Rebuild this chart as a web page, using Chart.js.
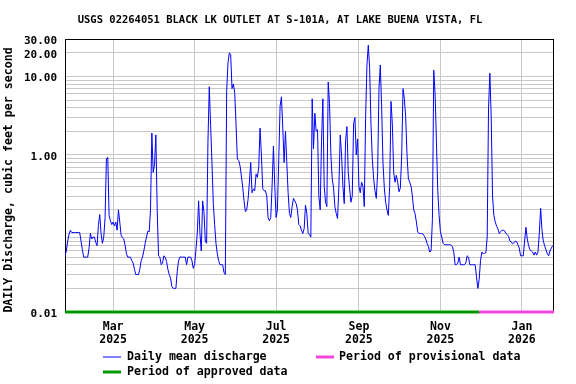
<!DOCTYPE html>
<html>
<head>
<meta charset="utf-8">
<script src="https://cdn.jsdelivr.net/npm/chart.js@4.4.1/dist/chart.umd.min.js"></script>
<style>
  html, body { margin: 0; padding: 0; background: #fff; }
</style>
</head>
<body>
<canvas id="chart" width="576" height="384"></canvas>
<script>
  'use strict';

  // ---- data (day 0 = 2025-01-24)
  const startDate = '2025-01-24';
  const dailyFlow = [
    0.052, 0.06, 0.08, 0.097, 0.11, 0.103, 0.103, 0.103, 0.103, 0.103,
    0.103, 0.103, 0.08, 0.062, 0.05, 0.05, 0.05, 0.05, 0.065, 0.1,
    0.085, 0.09, 0.09, 0.077, 0.07, 0.127, 0.174, 0.1, 0.075, 0.09,
    0.16, 0.9, 0.93, 0.17, 0.145, 0.13, 0.14, 0.125, 0.14, 0.11,
    0.2, 0.14, 0.095, 0.088, 0.085, 0.07, 0.055, 0.05, 0.05, 0.05,
    0.045, 0.042, 0.035, 0.03, 0.03, 0.03, 0.035, 0.045, 0.05, 0.06,
    0.075, 0.09, 0.107, 0.105, 0.2, 1.9, 0.6, 0.75, 1.8, 0.2,
    0.052, 0.05, 0.04, 0.042, 0.052, 0.05, 0.044, 0.035, 0.03, 0.027,
    0.021, 0.02, 0.02, 0.02, 0.033, 0.045, 0.05, 0.05, 0.05, 0.05,
    0.05, 0.04, 0.05, 0.05, 0.05, 0.045, 0.036, 0.04, 0.062, 0.1,
    0.26, 0.1, 0.06, 0.26, 0.19, 0.08, 0.075, 1.5, 7.4, 2.37,
    0.8, 0.24, 0.13, 0.075, 0.055, 0.045, 0.04, 0.04, 0.04, 0.032,
    0.03, 6.6, 15, 20, 19, 7, 8, 6.3, 2.5, 0.89,
    0.85, 0.73, 0.54, 0.39, 0.26, 0.19, 0.2, 0.27, 0.45, 0.8,
    0.33, 0.37, 0.35, 0.57, 0.52, 0.7, 2.2, 1.0, 0.37, 0.35,
    0.35, 0.3, 0.16, 0.145, 0.16, 0.4, 1.3, 0.4, 0.16, 0.2,
    0.9, 4.2, 5.5, 2.2, 0.8, 2.0, 0.8, 0.33, 0.18, 0.16,
    0.22, 0.28, 0.26, 0.24, 0.2, 0.13, 0.125, 0.11, 0.1, 0.115,
    0.23, 0.18, 0.1, 0.097, 0.09, 5.2, 1.2, 3.4, 2.0, 2.1,
    0.3, 0.2, 1.5, 5.2, 0.4, 0.25, 0.22, 8.5, 4.5, 1.0,
    0.5, 0.38, 0.22, 0.18, 0.155, 0.4, 1.8, 1.0, 0.4, 0.24,
    1.5, 2.3, 0.6, 0.38, 0.25, 0.3, 2.5, 3.0, 1.0, 1.6,
    0.4, 0.33, 0.45, 0.4, 0.22, 3.0, 14, 25, 13, 2.5,
    0.9, 0.5, 0.35, 0.28, 0.6, 7, 14, 4, 0.8, 0.38,
    0.25, 0.2, 0.17, 0.4, 4.8, 2.5, 0.6, 0.45, 0.55, 0.45,
    0.34, 0.38, 1.0, 7, 5.2, 3.0, 1.0, 0.5, 0.45, 0.4,
    0.3, 0.2, 0.18, 0.14, 0.105, 0.1, 0.1, 0.1, 0.098, 0.092,
    0.085, 0.075, 0.068, 0.058, 0.06, 0.15, 12, 6, 1.5, 0.35,
    0.17, 0.105, 0.09, 0.075, 0.072, 0.072, 0.072, 0.072, 0.072, 0.071,
    0.068, 0.058, 0.04, 0.04, 0.042, 0.05, 0.04, 0.04, 0.04, 0.04,
    0.042, 0.052, 0.05, 0.04, 0.04, 0.04, 0.04, 0.04, 0.028, 0.02,
    0.026, 0.045, 0.058, 0.055, 0.056, 0.057, 0.09, 4, 11, 3,
    0.3, 0.17, 0.14, 0.125, 0.115, 0.1, 0.105, 0.11, 0.11, 0.108,
    0.1, 0.097, 0.092, 0.08, 0.078, 0.074, 0.076, 0.08, 0.079, 0.072,
    0.065, 0.052, 0.052, 0.052, 0.08, 0.12, 0.085, 0.07, 0.062, 0.06,
    0.058, 0.053, 0.058, 0.053, 0.058, 0.1, 0.21, 0.11, 0.08, 0.07,
    0.062, 0.055, 0.052, 0.06, 0.065, 0.07
  ];

  const lastDay = 366;
  const approvedDays = [0, 310];
  const provisionalDays = [310, lastDay];

  const monthTickDays = [36, 97, 158, 220, 281, 342];
  const monthTickLabels = [
    ['Mar', '2025'], ['May', '2025'], ['Jul', '2025'],
    ['Sep', '2025'], ['Nov', '2025'], ['Jan', '2026']
  ];

  const yGridValues = [
    0.01, 0.02, 0.03, 0.04, 0.05, 0.06, 0.07, 0.08, 0.09,
    0.1, 0.2, 0.3, 0.4, 0.5, 0.6, 0.7, 0.8, 0.9,
    1, 2, 3, 4, 5, 6, 7, 8, 9,
    10, 20, 30
  ];
  const yLabelValues = [0.01, 1, 10, 20, 30];

  const titleText = 'USGS 02264051 BLACK LK OUTLET AT S-101A, AT LAKE BUENA VISTA, FL';
  const yTitleText = 'DAILY Discharge, cubic feet per second';

  // ---- styles
  const FONT = '"DejaVu Sans Mono", monospace';
  const BLUE = '#0000ff';
  const GREEN = '#009a00';
  const PINK = '#f046dc';
  const GRID = '#c8c8c8';

  // frame, title, axis title and legend
  const usgsDecor = {
    id: 'usgsDecor',
    beforeDatasetsDraw(chart) {
      const { ctx, chartArea: a } = chart;
      ctx.save();
      ctx.strokeStyle = '#000';
      ctx.lineWidth = 1;
      ctx.strokeRect(a.left + 0.5, a.top + 0.5, a.right - a.left - 1, a.bottom - a.top);
      ctx.restore();
    },
    afterDraw(chart) {
      const ctx = chart.ctx;
      ctx.save();
      ctx.fillStyle = '#000';
      ctx.textBaseline = 'middle';

      ctx.font = `bold 10.5px ${FONT}`;
      ctx.textAlign = 'center';
      ctx.fillText(titleText, 280, 20);

      ctx.font = `bold 11.6px ${FONT}`;
      ctx.save();
      ctx.translate(9, 180);
      ctx.rotate(-Math.PI / 2);
      ctx.fillText(yTitleText, 0, 0);
      ctx.restore();

      // legend
      ctx.textAlign = 'left';
      const sample = (x, y, color, w) => {
        ctx.beginPath();
        ctx.strokeStyle = color;
        ctx.lineWidth = w;
        ctx.moveTo(x, y);
        ctx.lineTo(x + 18, y);
        ctx.stroke();
      };
      sample(103, 357, BLUE, 1);
      ctx.fillText('Daily mean discharge', 127, 357);
      sample(103, 372, GREEN, 3);
      ctx.fillText('Period of approved data', 127, 372);
      sample(316, 357, PINK, 3);
      ctx.fillText('Period of provisional data', 339, 357);
      ctx.restore();
    }
  };

  const flowPoints = dailyFlow.map((v, i) => ({ x: i, y: v }));
  const bottomValue = yGridValues[0];

  new Chart(document.getElementById('chart'), {
    type: 'line',
    data: {
      datasets: [
        {
          label: 'Daily mean discharge',
          data: flowPoints,
          borderColor: BLUE,
          borderWidth: 1,
          pointRadius: 0,
          tension: 0
        },
        {
          label: 'Period of approved data',
          data: approvedDays.map(d => ({ x: d, y: bottomValue })),
          borderColor: GREEN,
          borderWidth: 3,
          pointRadius: 0,
          clip: false
        },
        {
          label: 'Period of provisional data',
          data: provisionalDays.map(d => ({ x: d, y: bottomValue })),
          borderColor: PINK,
          borderWidth: 3,
          pointRadius: 0,
          clip: false
        }
      ]
    },
    options: {
      responsive: false,
      animation: false,
      events: [],
      layout: { padding: { top: 39, right: 22, left: 0, bottom: 0 } },
      plugins: { legend: { display: false }, title: { display: false }, tooltip: { enabled: false } },
      scales: {
        x: {
          type: 'linear',
          min: 0,
          max: lastDay,
          afterFit: s => { s.height = 72; },
          afterBuildTicks: s => { s.ticks = monthTickDays.map(v => ({ value: v })); },
          grid: { color: GRID, lineWidth: 1, drawTicks: false },
          border: { display: false },
          ticks: {
            autoSkip: false,
            maxRotation: 0,
            padding: 8,
            color: '#000',
            font: { family: FONT, size: 11.5, weight: 'bold', lineHeight: 1.15 },
            callback: v => monthTickLabels[monthTickDays.indexOf(v)] || ''
          }
        },
        y: {
          type: 'logarithmic',
          min: 0.01,
          max: 30,
          afterFit: s => { s.width = 65; },
          afterBuildTicks: s => { s.ticks = yGridValues.map(v => ({ value: v })); },
          grid: { color: GRID, lineWidth: 1, drawTicks: false },
          border: { display: false },
          ticks: {
            autoSkip: false,
            padding: 8,
            labelOffset: 2,
            color: '#000',
            font: { family: FONT, size: 11, weight: 'bold' },
            callback: v => yLabelValues.includes(v) ? v.toFixed(2) : ''
          }
        }
      }
    },
    plugins: [usgsDecor]
  });
</script>
</body>
</html>
